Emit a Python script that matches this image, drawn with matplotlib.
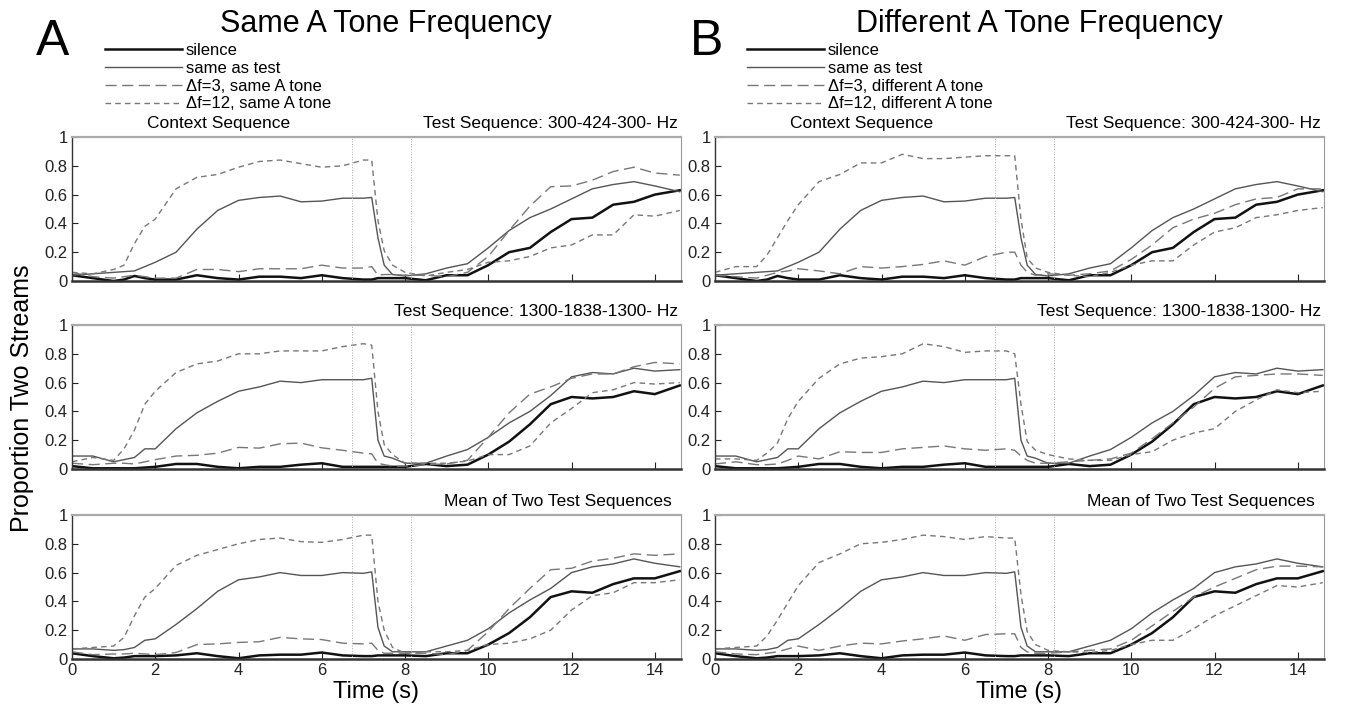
import matplotlib
matplotlib.use('Agg')
import matplotlib.pyplot as plt

plt.rcParams['font.family'] = ['Liberation Sans', 'DejaVu Sans']

# time grid (s) used for all curves
t = [0, 0.5, 1.0, 1.25, 1.5, 1.75, 2.0, 2.5, 3.0, 3.5, 4.0, 4.5, 5.0, 5.5, 6.0,
     6.5, 7.0, 7.2, 7.35, 7.5, 7.7, 8.0, 8.5, 9.0, 9.5, 10.0, 10.5, 11.0, 11.5,
     12.0, 12.5, 13.0, 13.5, 14.0, 14.6]

# silence / same-as-test curves (shared by both columns)
sil_top = [.04, .02, 0, .01, .035, .02, .01, .01, .04, .02, .01, .03, .03, .02, .04,
           .02, .01, .01, .02, .02, .02, .02, .005, .04, .04, .11, .20, .23, .34, .43,
           .44, .53, .55, .60, .63]
same_top = [.04, .05, .06, .065, .07, .10, .13, .20, .36, .49, .56, .58, .59, .55, .555,
            .575, .575, .58, .30, .11, .045, .035, .05, .09, .12, .23, .35, .44, .50, .57,
            .64, .67, .69, .66, .62]
sil_mid = [.02, .005, .005, .005, .005, .01, .015, .035, .035, .015, .005, .015, .015, .03, .04,
           .015, .015, .015, .015, .015, .015, .015, .035, .02, .03, .10, .19, .31, .45, .50,
           .49, .50, .54, .52, .58]
same_mid = [.09, .09, .05, .065, .08, .14, .14, .28, .39, .47, .54, .57, .61, .60, .62,
            .62, .62, .63, .20, .09, .075, .04, .04, .09, .135, .22, .32, .40, .51, .64,
            .67, .66, .70, .68, .69]
sil_mean = [.04, .02, .005, .01, .02, .02, .02, .025, .04, .02, .005, .025, .03, .03, .045,
            .025, .02, .02, .025, .025, .025, .025, .02, .04, .04, .10, .18, .29, .43, .47,
            .46, .52, .56, .56, .61]
same_mean = [.07, .07, .06, .065, .08, .13, .14, .24, .35, .47, .55, .57, .60, .58, .58,
             .60, .595, .605, .22, .09, .05, .05, .05, .09, .13, .21, .32, .41, .49, .60,
             .64, .66, .695, .665, .64]

# same A tone
d12_same_top = [.06, .05, .08, .11, .26, .38, .43, .64, .72, .74, .79, .83, .84, .815, .79,
                .80, .84, .84, .42, .21, .11, .06, .035, .06, .08, .13, .14, .17, .23, .25,
                .32, .32, .46, .45, .49]
d3_same_top = [.06, .03, .02, .03, .04, .03, .02, .02, .08, .08, .065, .085, .085, .085, .11,
               .09, .09, .10, .04, .045, .045, .04, .04, .03, .06, .17, .35, .52, .655, .66,
               .70, .76, .79, .75, .735]
d12_same_mid = [.05, .08, .06, .14, .27, .45, .54, .67, .73, .75, .80, .80, .82, .82, .82,
                .85, .87, .86, .40, .17, .10, .04, .04, .04, .055, .10, .10, .16, .32, .42,
                .53, .55, .60, .59, .60]
d3_same_mid = [.04, .03, .04, .04, .035, .05, .065, .09, .095, .11, .15, .145, .175, .18, .147,
               .13, .11, .105, .04, .03, .02, .02, .03, .035, .06, .22, .39, .52, .57, .63,
               .66, .66, .71, .74, .73]
d12_same_mean = [.07, .08, .09, .15, .30, .43, .49, .65, .72, .76, .80, .83, .84, .815, .81,
                 .83, .86, .86, .40, .20, .08, .04, .05, .05, .06, .10, .11, .14, .20, .34,
                 .44, .46, .53, .53, .55]
d3_same_mean = [.05, .03, .035, .035, .04, .035, .03, .045, .10, .105, .115, .12, .15, .14, .135,
                .11, .105, .11, .06, .04, .04, .04, .04, .03, .06, .19, .35, .49, .62, .63,
                .68, .70, .73, .72, .73]

# different A tone
d12_diff_top = [.06, .10, .10, .18, .30, .42, .53, .69, .74, .82, .82, .88, .85, .85, .86,
                .87, .87, .87, .43, .16, .09, .06, .04, .03, .06, .11, .14, .14, .25, .34,
                .37, .44, .46, .49, .51]
d3_diff_top = [.04, .03, .02, .04, .06, .07, .085, .07, .05, .10, .09, .10, .115, .14, .11,
               .17, .20, .20, .11, .06, .04, .05, .04, .05, .07, .15, .25, .37, .43, .47,
               .53, .57, .58, .64, .64]
d12_diff_mid = [.07, .07, .06, .11, .18, .35, .47, .63, .73, .77, .78, .80, .87, .85, .81,
                .82, .82, .80, .45, .19, .13, .10, .07, .06, .06, .10, .12, .20, .25, .28,
                .40, .48, .55, .53, .54]
d3_diff_mid = [.035, .05, .03, .03, .035, .06, .09, .07, .12, .115, .115, .14, .15, .16, .14,
               .13, .14, .13, .09, .06, .04, .04, .05, .06, .07, .11, .21, .32, .43, .56,
               .64, .65, .66, .66, .65]
d12_diff_mean = [.07, .08, .09, .16, .27, .39, .51, .67, .73, .80, .81, .83, .86, .85, .83,
                 .85, .84, .84, .45, .19, .10, .06, .05, .045, .06, .10, .13, .13, .21, .30,
                 .37, .44, .51, .50, .53]
d3_diff_mean = [.05, .035, .03, .04, .05, .07, .09, .06, .09, .11, .105, .125, .14, .16, .13,
                .17, .175, .175, .08, .05, .04, .04, .05, .06, .07, .13, .23, .33, .43, .50,
                .56, .62, .645, .645, .64]

context_end = 6.73
test_start = 8.14
row_titles = ['Test Sequence: 300-424-300- Hz', 'Test Sequence: 1300-1838-1300- Hz',
              'Mean of Two Test Sequences']
col_titles = ['Same A Tone Frequency', 'Different A Tone Frequency']
col_letters = ['A', 'B']
col_tags = ['same A tone', 'different A tone']

rows_sil = [sil_top, sil_mid, sil_mean]
rows_same = [same_top, same_mid, same_mean]
cols_d3 = [[d3_same_top, d3_same_mid, d3_same_mean], [d3_diff_top, d3_diff_mid, d3_diff_mean]]
cols_d12 = [[d12_same_top, d12_same_mid, d12_same_mean], [d12_diff_top, d12_diff_mid, d12_diff_mean]]

W, H = 1351, 711
fig = plt.figure(figsize=(W / 100, H / 100), dpi=100)

col_left = [72, 715]
ax_w = 609
row_top = [137, 325, 515]
ax_h = 144

for c in range(2):
    for r in range(3):
        ax = fig.add_axes([col_left[c] / W, 1 - (row_top[r] + ax_h) / H, ax_w / W, ax_h / H])
        l1, = ax.plot(t, rows_sil[r], color='#111111', lw=1.8)
        l2, = ax.plot(t, rows_same[r], color='#555555', lw=1.0)
        l3, = ax.plot(t, cols_d3[c][r], color='#777777', lw=1.0, dashes=(8, 4))
        l4, = ax.plot(t, cols_d12[c][r], color='#777777', lw=1.0, dashes=(4, 3))
        ax.axvline(context_end, color='#aaaaaa', lw=0.7, ls=':')
        ax.axvline(test_start, color='#aaaaaa', lw=0.7, ls=':')

        ax.set_xlim(0, 14.63)
        ax.set_ylim(0, 1)
        ax.set_yticks([0, 0.2, 0.4, 0.6, 0.8, 1])
        ax.set_yticklabels(['0', '0.2', '0.4', '0.6', '0.8', '1'])
        ax.set_xticks(range(0, 15, 2))
        ax.tick_params(direction='in', length=4, width=0.8, labelsize=12, pad=3, colors='#222222')
        ax.tick_params(axis='x', length=5)
        if r < 2:
            ax.set_xticklabels([])
        else:
            ax.set_xlabel('Time (s)', fontsize=17, labelpad=2)

        ax.spines['top'].set_color('#aaaaaa')
        ax.spines['top'].set_linewidth(1.6)
        ax.spines['right'].set_color('#999999')
        ax.spines['right'].set_linewidth(0.8)
        ax.spines['bottom'].set_color('#333333')
        ax.spines['bottom'].set_linewidth(1.8)
        ax.spines['left'].set_color('#333333')
        ax.spines['left'].set_linewidth(1.0)

        ha_x = 0.985 if r == 2 else 0.995
        ax.text(ha_x, 1.095, row_titles[r], transform=ax.transAxes, ha='right', va='center',
                fontsize=12.5)
        if r == 0:
            ax.text(0.24, 1.095, 'Context Sequence', transform=ax.transAxes, ha='center',
                    va='center', fontsize=12.5)
            leg_x = (col_left[c] + 33 + (0 if c == 0 else -1)) / W
            ax.legend([l1, l2, l3, l4],
                      ['silence', 'same as test', '\u0394f=3, ' + col_tags[c],
                       '\u0394f=12, ' + col_tags[c]],
                      loc='upper left', bbox_to_anchor=(leg_x, 1 - 43 / H),
                      bbox_transform=fig.transFigure, frameon=False, fontsize=12,
                      handlelength=4.6, handletextpad=0.25, labelspacing=0.17,
                      borderpad=0, borderaxespad=0)

fig.text(386 / W, 1 - 24 / H, col_titles[0], ha='center', va='center', fontsize=22)
fig.text(1039 / W, 1 - 24 / H, col_titles[1], ha='center', va='center', fontsize=22)
fig.text(53 / W, 1 - 42 / H, col_letters[0], ha='center', va='center', fontsize=36)
fig.text(707 / W, 1 - 42 / H, col_letters[1], ha='center', va='center', fontsize=36)
fig.text(22 / W, 1 - 398 / H, 'Proportion Two Streams', rotation=90, ha='center',
         va='center', fontsize=18)

fig.savefig('out.png', dpi=100)
